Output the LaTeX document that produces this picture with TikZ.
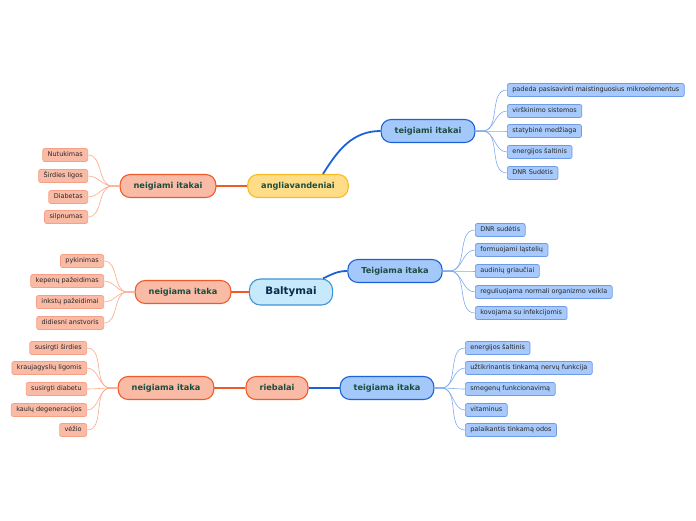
\documentclass[tikz,border=0pt]{standalone}
\usepackage{fontspec}
\setmainfont{DejaVu Sans}
\definecolor{bluefill}{HTML}{A4C8FA}
\definecolor{blueline}{HTML}{1A62D6}
\definecolor{salfill}{HTML}{F9BBA6}
\definecolor{salline}{HTML}{F05A28}
\definecolor{yelfill}{HTML}{FFDD88}
\definecolor{yelline}{HTML}{F8BC22}
\definecolor{skyfill}{HTML}{C6EAFB}
\definecolor{skyline}{HTML}{3E95D6}
\definecolor{bleaffill}{HTML}{A7C9FB}
\definecolor{bleafline}{HTML}{6D9BE8}
\definecolor{oleaffill}{HTML}{F9BBA6}
\definecolor{oleafline}{HTML}{F6A085}
\definecolor{bwirecol}{HTML}{7FAAEE}
\definecolor{owirecol}{HTML}{F9A789}
\definecolor{midtext}{HTML}{1B4D3E}
\definecolor{toptext}{HTML}{0B2A4A}
\definecolor{leaftext}{HTML}{262626}

\begin{document}
\begin{tikzpicture}[x=1pt, y=-1pt,
  midbox/.style={draw, rounded corners=10pt, line width=1.1pt, minimum height=23pt,
    inner xsep=13.5pt, inner ysep=0pt, text height=6.2pt, text depth=1.8pt,
    font=\fontsize{8.2}{10}\selectfont\bfseries, text=midtext},
  posbox/.style={midbox, fill=bluefill, draw=blueline},
  negbox/.style={midbox, fill=salfill, draw=salline},
  leafbox/.style={draw, rounded corners=2pt, line width=0.7pt, minimum height=13pt,
    inner xsep=5pt, inner ysep=0pt, text height=4.9pt, text depth=1.5pt,
    font=\fontsize{6.5}{8}\selectfont, text=leaftext},
  bleaf/.style={leafbox, fill=bleaffill, draw=bleafline, anchor=west},
  oleaf/.style={leafbox, fill=oleaffill, draw=oleafline, anchor=east},
  bwire/.style={draw=bwirecol, line width=0.6pt},
  owire/.style={draw=owirecol, line width=0.6pt},
  bmain/.style={draw=blueline, line width=1.8pt},
  omain/.style={draw=salline, line width=1.8pt}]
\useasboundingbox (0,-1) rectangle (696,519);

\node[midbox, fill=yelfill, draw=yelline] (A) at (298,185) {angliavandeniai};
\node[midbox, fill=skyfill, draw=skyline, minimum height=26pt, inner xsep=16pt,
  rounded corners=11pt, text=toptext, font=\fontsize{10.3}{12}\selectfont\bfseries] (B) at (291,291) {Baltymai};
\node[negbox] (R) at (277,387) {riebalai};

\node[posbox] (AT) at (428,130) {teigiami itakai};
\node[negbox] (AN) at (168,185) {neigiami itakai};
\node[posbox] (BT) at (395,270) {Teigiama itaka};
\node[negbox] (BN) at (183,291) {neigiama itaka};
\node[posbox] (RT) at (387,387) {teigiama itaka};
\node[negbox] (RN) at (166,387) {neigiama itaka};

\draw[bmain] ([xshift=25pt]A.north) to[out=58, in=180] (AT.west);
\draw[omain] (A) -- (AN);
\draw[bmain] ([xshift=32pt]B.north) to[out=25, in=180] (BT.west);
\draw[omain] (B) -- (BN);
\draw[omain] (R) -- (RN);
\draw[bmain] (R) -- (RT);

\node[bleaf] (AT1) at (507,89) {padeda pasisavinti maistinguosius mikroelementus};
\node[bleaf] (AT2) at (507,110) {virškinimo sistemos};
\node[bleaf] (AT3) at (507,130) {statybinė medžiaga};
\node[bleaf] (AT4) at (507,151) {energijos šaltinis};
\node[bleaf] (AT5) at (507,172) {DNR Sudėtis};

\node[oleaf] (AN1) at (88,154) {Nutukimas};
\node[oleaf] (AN2) at (88,175) {Širdies ligos};
\node[oleaf] (AN3) at (88,196) {Diabetas};
\node[oleaf] (AN4) at (88,216) {silpnumas};

\node[bleaf] (BT1) at (475,229) {DNR sudėtis};
\node[bleaf] (BT2) at (475,249) {formuojami ląstelių};
\node[bleaf] (BT3) at (475,270) {audinių griaučiai};
\node[bleaf] (BT4) at (475,291) {reguliuojama normali organizmo veikla};
\node[bleaf] (BT5) at (475,312) {kovojama su infekcijomis};

\node[oleaf] (BN1) at (104,260) {pykinimas};
\node[oleaf] (BN2) at (104,280) {kepenų pažeidimas};
\node[oleaf] (BN3) at (104,301) {inkstų pažeidimai};
\node[oleaf] (BN4) at (104,322) {didiesni anstvoris};

\node[bleaf] (RT1) at (465,347) {energijos šaltinis};
\node[bleaf] (RT2) at (465,367) {užtikrinantis tinkamą nervų funkcija};
\node[bleaf] (RT3) at (465,388) {smegenų funkcionavimą};
\node[bleaf] (RT4) at (465,409) {vitaminus};
\node[bleaf] (RT5) at (465,429) {palaikantis tinkamą odos};

\node[oleaf] (RN1) at (87,347) {susirgti širdies};
\node[oleaf] (RN2) at (87,367) {kraujagyslių ligomis};
\node[oleaf] (RN3) at (87,388) {susirgti diabetu};
\node[oleaf] (RN4) at (87,409) {kaulų degeneracijos};
\node[oleaf] (RN5) at (87,429) {vėžio};

\foreach \i in {1,...,5} {
  \draw[bwire] (AT.east) -- ++(7,0) to[out=0, in=180] (AT\i.west);
  \draw[bwire] (BT.east) -- ++(7,0) to[out=0, in=180] (BT\i.west);
  \draw[bwire] (RT.east) -- ++(7,0) to[out=0, in=180] (RT\i.west);
  \draw[owire] (RN.west) -- ++(-7,0) to[out=180, in=0] (RN\i.east);
}
\foreach \i in {1,...,4} {
  \draw[owire] (AN.west) -- ++(-7,0) to[out=180, in=0] (AN\i.east);
  \draw[owire] (BN.west) -- ++(-7,0) to[out=180, in=0] (BN\i.east);
}
\end{tikzpicture}
\end{document}
